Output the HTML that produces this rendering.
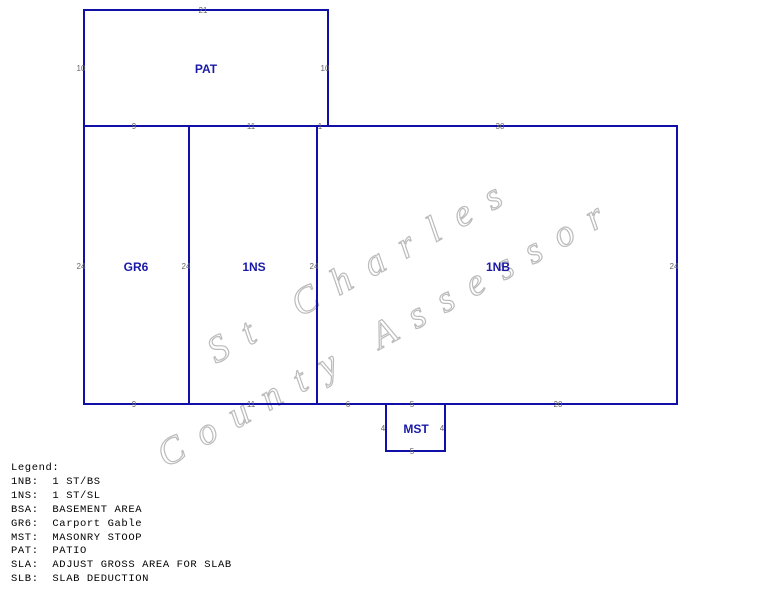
<!DOCTYPE html>
<html><head><style>
body{margin:0;background:#fff;width:762px;height:601px;overflow:hidden}
.l{position:absolute;left:11px;top:462px;font:10.5px/13.9px "Liberation Mono",monospace;color:#000;white-space:pre;letter-spacing:0.6px}
</style></head><body>
<svg width="762" height="601" style="position:absolute;left:0;top:0">
<g font-family="Liberation Serif,serif" font-size="38" fill="none" stroke="#bbb" stroke-width="1.2" font-style="italic">
<text x="0" y="0" transform="translate(216,364) rotate(-29)" letter-spacing="19">St Charles</text>
<text x="0" y="0" transform="translate(166,468) rotate(-29)" letter-spacing="18">County Assessor</text>
</g>
<g stroke="#1010a8" stroke-width="2" fill="none">
<path d="M84 126V10H328V126"/>
<path d="M84 126H677V404H84Z"/>
<path d="M189 126V404M317 126V404"/>
<path d="M386 404V451H445V404"/>
</g>
<g font-family="Liberation Sans,sans-serif" font-size="8" fill="#666" text-anchor="middle">
<text x="203" y="13">21</text><text x="81" y="71">10</text><text x="325" y="71">10</text>
<text x="134" y="129">9</text><text x="251" y="129">11</text><text x="320" y="129">1</text><text x="500" y="129">30</text>
<text x="81" y="269">24</text><text x="186" y="269">24</text><text x="314" y="269">24</text><text x="674" y="269">24</text>
<text x="134" y="407">9</text><text x="251" y="407">11</text><text x="348" y="407">6</text><text x="412" y="407">5</text><text x="558" y="407">20</text>
<text x="383" y="431">4</text><text x="442" y="431">4</text><text x="412" y="454">5</text>
</g>
<g font-family="Liberation Sans,sans-serif" font-size="12" font-weight="bold" fill="#1a1aa8" text-anchor="middle">
<text x="206" y="73">PAT</text><text x="136" y="271">GR6</text><text x="254" y="271">1NS</text><text x="498" y="271">1NB</text><text x="416" y="433">MST</text>
</g>
</svg>
<div class="l">Legend:
1NB:  1 ST/BS
1NS:  1 ST/SL
BSA:  BASEMENT AREA
GR6:  Carport Gable
MST:  MASONRY STOOP
PAT:  PATIO
SLA:  ADJUST GROSS AREA FOR SLAB
SLB:  SLAB DEDUCTION</div>
</body></html>
